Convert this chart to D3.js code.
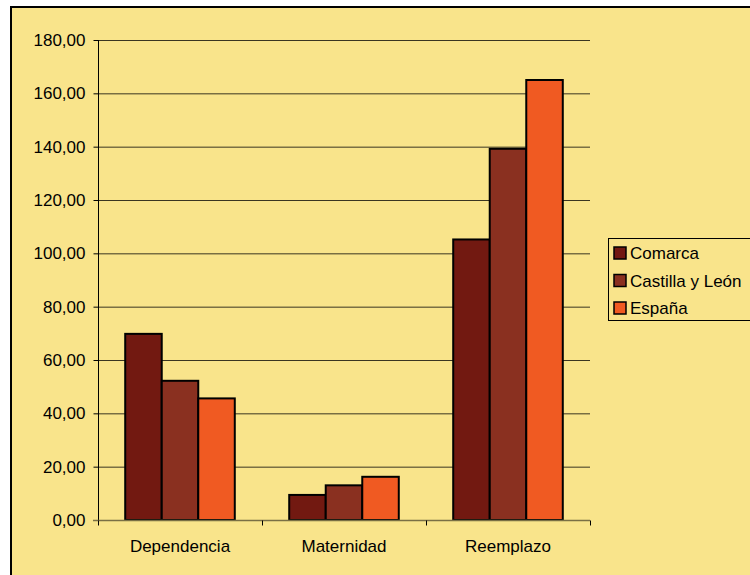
<!DOCTYPE html>
<html><head><meta charset="utf-8">
<script src="https://cdn.jsdelivr.net/npm/d3@7"></script>
<style>
html,body{margin:0;padding:0;background:#fff;}
svg{display:block;font-family:"Liberation Sans",Arial,sans-serif;}
</style></head>
<body><svg id="c" width="750" height="575"></svg>
<script>
const categories = ["Dependencia", "Maternidad", "Reemplazo"];
const seriesNames = ["Comarca", "Castilla y León", "España"];
const comarca = [69.8, 9.4, 105.2];
const castilla = [52.2, 13.0, 139.2];
const espana = [45.6, 16.2, 165.0];
const yTicks = [0, 20, 40, 60, 80, 100, 120, 140, 160, 180];
const colors = ["#721911", "#8a3020", "#f05a22"];

const seriesValues = [comarca, castilla, espana];
const svg = d3.select("#c");

// background panel
svg.append("rect").attr("x", 11).attr("y", 7).attr("width", 760).attr("height", 600)
  .attr("fill", "#f9e48b").attr("stroke", "#000").attr("stroke-width", 2);

const x0 = 98, x1 = 590, yTop = 40, yBot = 520;
const x = d3.scaleBand().domain(categories).range([x0, x1]).paddingInner(0).paddingOuter(0);
const xs = d3.scaleBand().domain(d3.range(3)).range([0, x.bandwidth()]).paddingInner(0).paddingOuter(0.745);
const y = d3.scaleLinear().domain([0, 180]).range([yBot, yTop]);

// gridlines
svg.append("g").selectAll("line").data(yTicks.filter(t => t > 0)).join("line")
  .attr("x1", x0).attr("x2", x1).attr("y1", d => y(d) + 0.5).attr("y2", d => y(d) + 0.5)
  .attr("stroke", "#3a3520").attr("stroke-width", 1);

// y axis
const yAxis = svg.append("g").attr("transform", `translate(${x0 + 0.5},0)`)
  .call(d3.axisLeft(y).tickValues(yTicks).tickSize(5).tickPadding(8)
    .tickFormat(d => d3.format(".2f")(d).replace(".", ",")));
yAxis.select(".domain").attr("stroke", "#000").attr("d", `M0,${yTop}V${yBot}`);
yAxis.selectAll(".tick line").attr("stroke", "#000");
yAxis.selectAll("text").attr("font-size", 17).attr("fill", "#000")
  .attr("font-family", "Liberation Sans, Arial, sans-serif");

// bars
const g = svg.append("g");
categories.forEach((c, i) => {
  seriesValues.forEach((vals, s) => {
    g.append("rect")
      .attr("x", x(c) + xs(s))
      .attr("y", y(vals[i]))
      .attr("width", xs.bandwidth())
      .attr("height", yBot - y(vals[i]))
      .attr("fill", colors[s]).attr("stroke", "#000").attr("stroke-width", 2);
  });
});

// x axis
const xAxis = svg.append("g").attr("transform", `translate(0,${yBot + 0.5})`);
xAxis.append("line").attr("x1", x0 - 5).attr("x2", x1).attr("y1", 0).attr("y2", 0)
  .attr("stroke", "#7a6f45").attr("stroke-width", 1.5);
xAxis.selectAll("line.tk").data([x0, ...categories.map(c => x(c) + x.bandwidth())]).join("line")
  .attr("class", "tk").attr("x1", d => d + 0.5).attr("x2", d => d + 0.5).attr("y1", 0).attr("y2", 5)
  .attr("stroke", "#000");
xAxis.selectAll("text").data(categories).join("text")
  .attr("x", d => x(d) + x.bandwidth() / 2).attr("y", 31)
  .attr("text-anchor", "middle").attr("font-size", 17).attr("fill", "#000").text(d => d);

// legend
const lg = svg.append("g").attr("transform", "translate(608,238)");
lg.append("rect").attr("x", 0.5).attr("y", 0.5).attr("width", 160).attr("height", 82)
  .attr("fill", "#f9e48b").attr("stroke", "#000").attr("stroke-width", 1);
seriesNames.forEach((n, i) => {
  const cy = 15 + i * 27.5;
  lg.append("rect").attr("x", 6).attr("y", cy - 6).attr("width", 12).attr("height", 12)
    .attr("fill", colors[i]).attr("stroke", "#000").attr("stroke-width", 1.5);
  lg.append("text").attr("x", 22).attr("y", cy + 6).attr("font-size", 17).attr("fill", "#000").text(n);
});
</script></body></html>
